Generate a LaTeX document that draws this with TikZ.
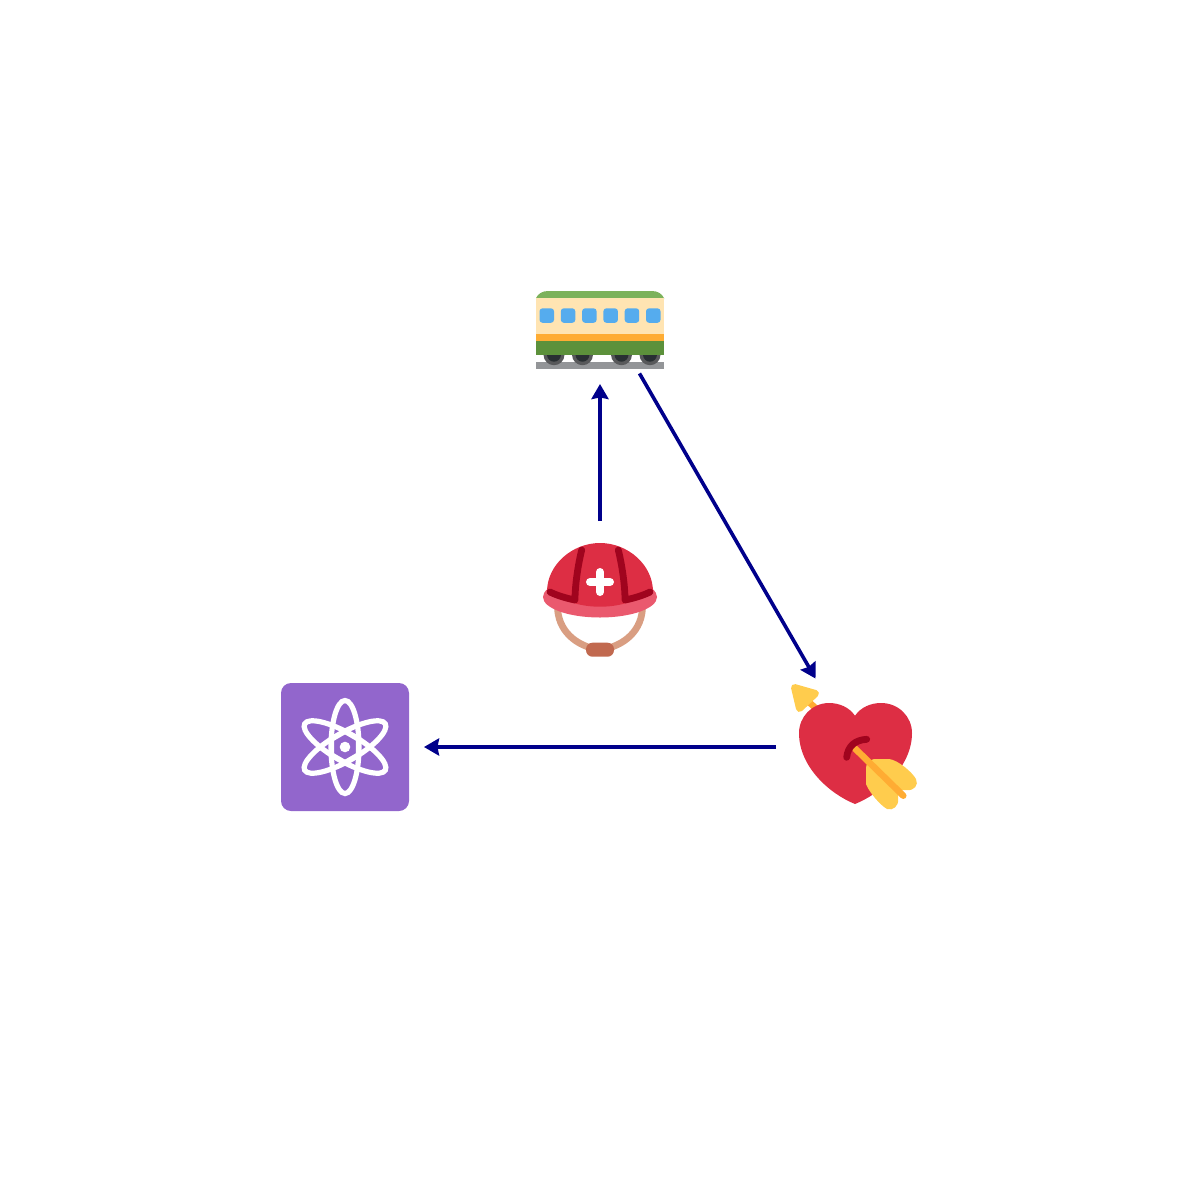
\documentclass[tikz,border=0pt]{standalone}
\usetikzlibrary{arrows.meta}
\definecolor{linkblue}{RGB}{0,0,139}
\definecolor{leaf}{RGB}{124,178,91}
\definecolor{cream}{RGB}{255,228,178}
\definecolor{amber}{RGB}{255,172,51}
\definecolor{moss}{RGB}{92,145,59}
\definecolor{sky}{RGB}{85,172,238}
\definecolor{rail}{RGB}{147,149,152}
\definecolor{tyre}{RGB}{88,89,91}
\definecolor{hub}{RGB}{41,47,51}
\definecolor{rose}{RGB}{221,46,68}
\definecolor{wine}{RGB}{160,4,30}
\definecolor{pinkish}{RGB}{234,89,110}
\definecolor{strap}{RGB}{217,158,130}
\definecolor{buckle}{RGB}{193,105,79}
\definecolor{violet}{RGB}{146,102,204}
\definecolor{gold}{RGB}{255,204,77}
\tikzstyle{station}=[circle,minimum size=158pt,inner sep=0pt,outer sep=0pt]
\tikzstyle{link}=[draw=linkblue,line width=3.6pt,-{Stealth[length=15pt,width=17pt,inset=1.5pt]}]
\tikzstyle{orbit}=[draw=white,line width=5.2pt]
\newcommand{\drawtrain}{
\fill[leaf] (536,299) -- (536,298) .. controls (538,294) and (542,291) .. (548,291) -- (652,291) .. controls (658,291) and (662,294) .. (664,298) -- (664,299) -- cycle;
\fill[cream] (536,298) rectangle (664,334);
\fill[amber] (536,334) rectangle (664,341);
\fill[rail] (536,362) rectangle (664,369);
\foreach \x in {554,582.5,621.5,650} {
  \fill[tyre] (\x,354.7) circle (10.5);
  \fill[hub] (\x,354.7) circle (7);
}
\fill[moss] (536,341) rectangle (664,355);
\foreach \i in {0,1,...,5} {
  \fill[sky,rounded corners=3pt] (539.5+21.3*\i,308.3) rectangle ++(14.5,14.5);
}
}
\newcommand{\drawhelmet}{
\draw[strap,line width=6.8pt] (557.5,606) .. controls (557.5,630) and (575,646) .. (600,650) .. controls (625,646) and (642.5,630) .. (642.5,606);
\fill[buckle,rounded corners=6.5pt] (586,642.7) rectangle (614,656.7);
\fill[pinkish] (600,597) ellipse (57 and 20.5);
\fill[rose] (547,591.7) .. controls (547,565) and (572,543) .. (600,543) .. controls (628,543) and (653,565) .. (653,591.7) .. controls (635,602) and (618,606.7) .. (600,606.7) .. controls (582,606.7) and (565,602) .. (547,591.7) -- cycle;
\foreach \s in {1,-1} {
  \draw[wine,line width=6.8pt,line cap=round,line join=round] (600+\s*18.3,550) .. controls (600+\s*22,565) and (600+\s*25,585) .. (600+\s*25,600) .. controls (600+\s*35,598) and (600+\s*44,595) .. (600+\s*50,592);
}
\draw[white,line width=8pt,line cap=round] (590,582) -- (610,582) (600,572) -- (600,592);
}
\newcommand{\drawatom}{
\fill[violet,rounded corners=10pt] (281,683) rectangle (409,811);
\foreach \a in {0,60,120} {
  \draw[orbit,rotate around={\a:(345,747)}] (345,747) ellipse (14 and 46.5);
}
\draw[draw=white,line width=5pt,line join=round] (345,731.5) -- (358.4,739.25) -- (358.4,754.75) -- (345,762.5) -- (331.6,754.75) -- (331.6,739.25) -- cycle;
\fill[white] (345,747) circle (5.3);
}
\newcommand{\drawheart}{
\draw[amber,line width=6.5pt] (809,702) -- (830,722);
\fill[gold,draw=gold,line width=7pt,line join=round] (794.5,687.5) -- (815.5,693.5) -- (799.5,708.5) -- cycle;
\fill[rose] (855,715.7) .. controls (861,707) and (871,703) .. (881,703) .. controls (899,703) and (912,717) .. (912,733) .. controls (912,767) and (880,794) .. (855,804) .. controls (830,794) and (799,767) .. (799,733) .. controls (799,717) and (812,703) .. (829,703) .. controls (839,703) and (849,707) .. (855,715.7) -- cycle;
\fill[gold] (866,768) .. controls (866,764) and (869,760) .. (874,759) -- (889,759) .. controls (898,760) and (912,772) .. (916,779) .. controls (919,785) and (914,791) .. (907,790) -- (898,790) -- (898,799) .. controls (899,806) and (893,811) .. (887,809) .. controls (880,805) and (869,792) .. (866,784) -- cycle;
\draw[amber,line width=6.5pt,line cap=round] (855,748.5) -- (903.3,795.7);
\draw[wine,line width=6.8pt,line cap=round] (846.7,757.3) .. controls (848,746) and (855,740) .. (866.7,739.3);
}

\begin{document}
\begin{tikzpicture}[x=1pt,y=-1pt]
	\useasboundingbox (0,0) rectangle (1200,1200);
	\drawtrain
	\drawhelmet
	\drawatom
	\drawheart
	\node[station] (train) at (600,305) {};
	\node[station] (helmet) at (600,600) {};
	\node[station] (atom) at (345,747) {};
	\node[station] (heart) at (855,747) {};
	\draw[link] (helmet) -- (train);
	\draw[link] (train) -- (heart);
	\draw[link] (heart) -- (atom);
\end{tikzpicture}
\end{document}
